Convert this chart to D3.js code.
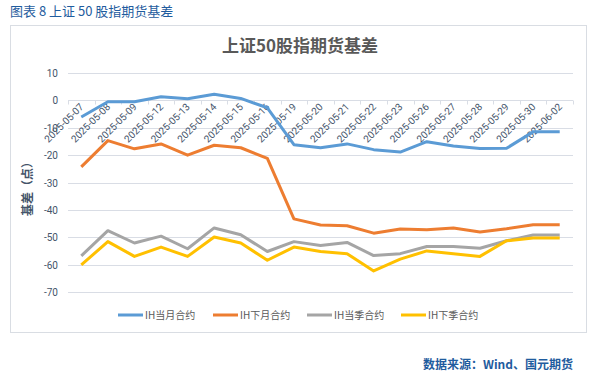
<!DOCTYPE html>
<html lang="zh">
<head>
<meta charset="UTF-8" />
<script src="https://d3js.org/d3.v7.min.js"></script>
<style>
  body { margin: 0; background: #fff; font-family: "Noto Sans CJK SC", "Noto Sans", sans-serif; }
</style>
</head>
<body>
<svg id="chart" width="601" height="375"></svg>
<script>
const dates = ["2025-05-07","2025-05-08","2025-05-09","2025-05-12","2025-05-13","2025-05-14","2025-05-15","2025-05-16","2025-05-19","2025-05-20","2025-05-21","2025-05-22","2025-05-23","2025-05-26","2025-05-27","2025-05-28","2025-05-29","2025-05-30","2025-06-02"];
const ihMonth = [-6.1,-0.5,-0.5,1.3,0.6,2.2,0.7,-2.7,-16.2,-17.3,-15.9,-18.0,-18.9,-15.1,-16.7,-17.6,-17.5,-11.5,-11.5];
const ihNextMonth = [-24.3,-14.7,-17.7,-15.9,-20.0,-16.4,-17.3,-21.2,-43.3,-45.5,-45.8,-48.5,-47.0,-47.3,-46.6,-48.1,-46.9,-45.4,-45.4];
const ihQuarter = [-56.8,-47.6,-52.1,-49.6,-54.2,-46.6,-49.1,-55.2,-51.6,-53.0,-51.9,-56.7,-56.0,-53.4,-53.4,-54.0,-51.3,-49.2,-49.2];
const ihNextQuarter = [-60.1,-51.6,-57.0,-53.6,-57.0,-49.9,-52.1,-58.4,-53.6,-55.2,-56.0,-62.3,-58.0,-55.0,-56.0,-57.0,-51.3,-50.3,-50.3];
const yTicks = [10,0,-10,-20,-30,-40,-50,-60,-70];

const series = [
  { name: "IH当月合约", values: ihMonth, color: "#5b9bd5" },
  { name: "IH下月合约", values: ihNextMonth, color: "#ed7d31" },
  { name: "IH当季合约", values: ihQuarter, color: "#a5a5a5" },
  { name: "IH下季合约", values: ihNextQuarter, color: "#ffc000" }
];

const svg = d3.select("#chart");

// header above frame
svg.append("text")
  .attr("x", 10).attr("y", 16)
  .attr("font-size", 13).attr("fill", "#1f5c9e")
  .text("图表 8  上证 50 股指期货基差");

// frame
svg.append("rect")
  .attr("x", 10.5).attr("y", 25.5)
  .attr("width", 576).attr("height", 307)
  .attr("fill", "#fff").attr("stroke", "#d9dde3");

svg.append("text")
  .attr("x", 300).attr("y", 52)
  .attr("text-anchor", "middle")
  .attr("font-size", 17).attr("font-weight", "bold")
  .attr("fill", "#595959")
  .text("上证50股指期货基差");

const x = d3.scaleBand().domain(dates).range([68, 573]);
const y = d3.scaleLinear().domain([-70, 10]).range([292, 73]);

// gridlines
svg.append("g")
  .selectAll("line")
  .data(yTicks)
  .join("line")
  .attr("x1", 68).attr("x2", 573)
  .attr("y1", d => Math.round(y(d)) + 0.5)
  .attr("y2", d => Math.round(y(d)) + 0.5)
  .attr("stroke", "#d9dde5").attr("stroke-width", 1);

// y labels
svg.append("g")
  .selectAll("text")
  .data(yTicks)
  .join("text")
  .attr("x", 58).attr("y", d => y(d) + 4)
  .attr("text-anchor", "end")
  .attr("font-size", 10).attr("fill", "#44546a")
  .attr("font-family", "Roboto, 'Noto Sans', sans-serif")
  .text(d => d);

// category ticks on zero line
const y0 = Math.round(y(0)) + 0.5;
svg.append("g")
  .selectAll("line")
  .data(d3.range(dates.length + 1))
  .join("line")
  .attr("x1", i => Math.round(68 + i * x.step()) + 0.5)
  .attr("x2", i => Math.round(68 + i * x.step()) + 0.5)
  .attr("y1", y0).attr("y2", y0 + 4)
  .attr("stroke", "#d9dde5");

// x labels rotated
svg.append("g")
  .selectAll("text")
  .data(dates)
  .join("text")
  .attr("transform", d => `translate(${x(d) + x.bandwidth() / 2 + 3},${y0 + 7}) rotate(-45)`)
  .attr("text-anchor", "end")
  .attr("font-size", 10).attr("fill", "#44546a")
  .attr("font-family", "Roboto, 'Noto Sans', sans-serif")
  .text(d => d);

// lines
const line = d3.line()
  .x((d, i) => x(dates[i]) + x.bandwidth() / 2)
  .y(d => y(d));

svg.append("g")
  .selectAll("path")
  .data(series)
  .join("path")
  .attr("d", s => line(s.values))
  .attr("fill", "none")
  .attr("stroke", s => s.color)
  .attr("stroke-width", 3)
  .attr("stroke-linejoin", "round");

// y axis title
svg.append("text")
  .attr("transform", "translate(32,186) rotate(-90)")
  .attr("text-anchor", "middle")
  .attr("font-size", 12).attr("font-weight", "bold")
  .attr("fill", "#44546a")
  .text("基差（点）");

// legend
const legendX = [118, 213, 307, 401];
const legend = svg.append("g")
  .selectAll("g")
  .data(series)
  .join("g")
  .attr("transform", (d, i) => `translate(${legendX[i]},315)`);
legend.append("line")
  .attr("x1", 0).attr("x2", 25)
  .attr("stroke", d => d.color).attr("stroke-width", 3);
legend.append("text")
  .attr("x", 27).attr("y", 4)
  .attr("font-size", 10).attr("fill", "#595959")
  .text(d => d.name);

// source
svg.append("text")
  .attr("x", 573).attr("y", 369)
  .attr("text-anchor", "end")
  .attr("font-size", 12).attr("font-weight", "bold")
  .attr("fill", "#1f5c9e")
  .text("数据来源：Wind、国元期货");
</script>
</body>
</html>
